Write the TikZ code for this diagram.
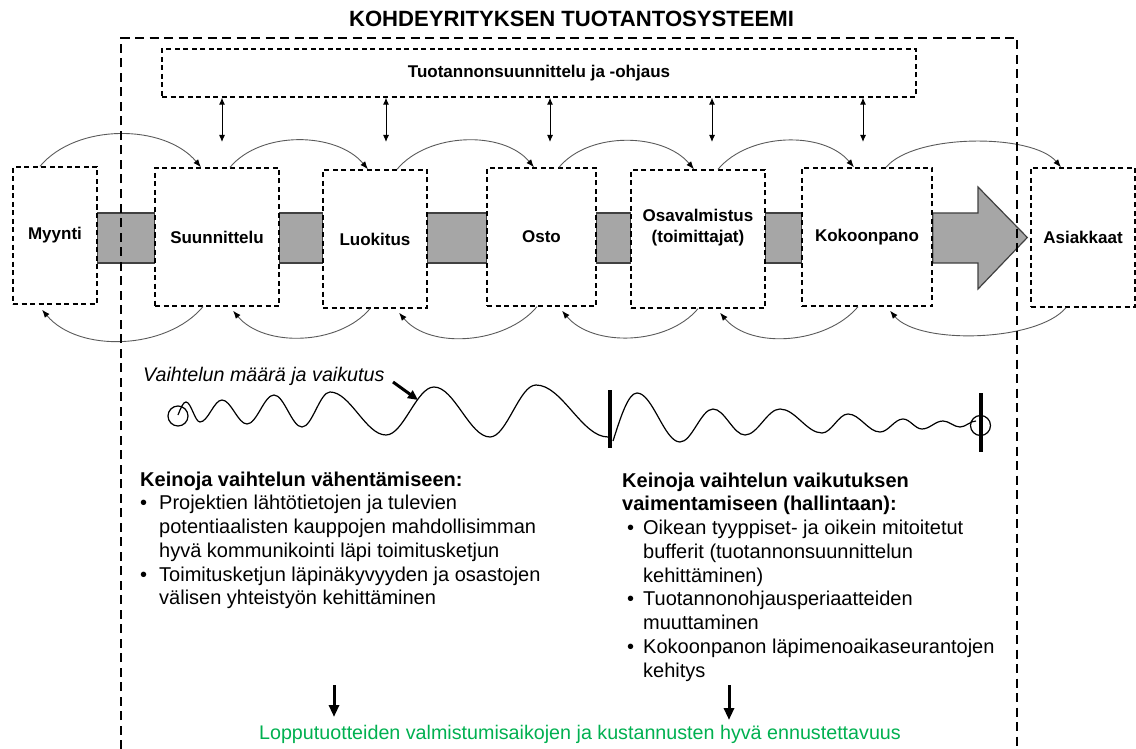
\documentclass[tikz,border=0pt]{standalone}
\usepackage{fontspec}
\setmainfont{Liberation Sans}
\usetikzlibrary{arrows.meta}

\definecolor{bandgrey}{HTML}{A6A6A6}
\definecolor{bandline}{HTML}{404040}
\definecolor{arcgrey}{HTML}{5A5A5A}
\definecolor{resultgreen}{HTML}{00B050}

\begin{document}
\begin{tikzpicture}[x=1pt,y=-1pt,
  stage/.style={draw, fill=white, line width=1.4pt, dash pattern=on 5pt off 3.5pt,
    inner sep=0pt, font=\fontsize{17}{21}\selectfont\bfseries, align=center},
  stagetext/.style={inner sep=0pt, font=\fontsize{17}{21}\selectfont\bfseries, align=center},
  frame/.style={line width=2.2pt, dash pattern=on 9pt off 5.5pt},
  band/.style={fill=bandgrey, draw=bandline, line width=1.2pt},
  flow/.style={draw=arcgrey, line width=0.9pt, -{Latex[length=8pt,width=6pt,color=black]}},
  ctrl/.style={line width=1pt, {Latex[length=7pt,width=6pt]}-{Latex[length=7pt,width=6pt]}},
  bodytext/.style={inner sep=0pt, anchor=base west, font=\fontsize{20}{23.75}\selectfont},
  bigdown/.style={line width=3pt, -{Triangle[length=12pt,width=10pt]}},
  wave/.style={line width=1.2pt, line join=round}
]
\useasboundingbox (0,0) rectangle (1136,749);

% title
\node[anchor=base, inner sep=0pt, font=\fontsize{22.1}{26}\selectfont\bfseries] (title) at (571.5,27)
  {KOHDEYRITYKSEN TUOTANTOSYSTEEMI};

% production planning box
\node[stage, line width=1.3pt, minimum width=754pt, minimum height=48pt] (tp) at (539,73)
  {Tuotannonsuunnittelu ja -ohjaus};

% helper levels for the material flow band
\coordinate (bt) at (0,213);
\coordinate (bb) at (0,263);

% the chain of stages (placed first so the band can refer to them)
\path
  node[stage, minimum width=84pt,  minimum height=137pt] (myy)  at (55,235.5) {}
  node[stage, minimum width=124pt, minimum height=138pt] (suun) at (217,237)  {}
  node[stage, minimum width=104pt, minimum height=138pt] (luo)  at (375,239)  {}
  node[stage, minimum width=109pt, minimum height=138pt] (osto) at (541.5,237) {}
  node[stage, minimum width=134pt, minimum height=138pt] (osa)  at (698,239)  {}
  node[stage, minimum width=130pt, minimum height=138pt] (kok)  at (867,237)  {}
  node[stage, minimum width=104pt, minimum height=139pt] (asi)  at (1083,237.5) {};

% material flow band between the stages
\draw[band] (myy.east |- bt) rectangle (suun.west |- bb);
\draw[band] (suun.east |- bt) rectangle (luo.west |- bb);
\draw[band] (luo.east |- bt) rectangle (osto.west |- bb);
\draw[band] (osto.east |- bt) rectangle (osa.west |- bb);
\draw[band] (osa.east |- bt) rectangle (kok.west |- bb);
\draw[band, line join=miter] (kok.east |- bt) -- (978,213) -- (978,187) -- ([xshift=-3pt]asi.west)
  -- (978,289) -- (978,263) -- (kok.east |- bb) -- cycle;

% stage boxes drawn over the band
\node[stage, minimum width=84pt,  minimum height=137pt] (myyb)  at (myy)  {Myynti};
\node[stage, minimum width=124pt, minimum height=138pt] (suunb) at (suun) {Suunnittelu};
\node[stage, minimum width=104pt, minimum height=138pt] (luob)  at (luo)  {Luokitus};
\node[stage, minimum width=109pt, minimum height=138pt] (ostob) at (osto) {Osto};
\node[stage, minimum width=134pt, minimum height=138pt] (osab)  at (osa)  {};
\node[stagetext] (osatxt) at (698,228) {Osavalmistus\\(toimittajat)};
\node[stage, minimum width=130pt, minimum height=138pt] (kokb)  at (kok)  {Kokoonpano};
\node[stage, minimum width=104pt, minimum height=139pt] (asib)  at (asi)  {Asiakkaat};

% information flow forward (over the top)
\draw[flow] ([xshift=-15pt]myy.north)  to[out=50,in=130,looseness=0.9] ([xshift=-16pt]suun.north);
\draw[flow] ([xshift=13pt]suun.north)  to[out=50,in=130,looseness=0.9] ([xshift=-7pt]luo.north);
\draw[flow] ([xshift=22pt]luo.north)   to[out=50,in=130,looseness=0.9] ([xshift=-7.5pt]osto.north);
\draw[flow] ([xshift=17.5pt]osto.north) to[out=50,in=130,looseness=0.9] ([xshift=-4pt]osa.north);
\draw[flow] ([xshift=20pt]osa.north)   to[out=50,in=130,looseness=0.9] ([xshift=-13pt]kok.north);
\draw[flow] ([xshift=19pt]kok.north)   to[out=50,in=130,looseness=0.65] ([xshift=-22pt]asi.north);

% feedback (underneath)
\draw[flow] ([xshift=-14pt]suun.south) to[out=-130,in=-50,looseness=0.9] ([xshift=-13pt,yshift=-5pt]myy.south);
\draw[flow] ([xshift=-5pt]luo.south)   to[out=-130,in=-50,looseness=0.9] ([xshift=16pt,yshift=-4pt]suun.south);
\draw[flow] ([xshift=-4.5pt]osto.south) to[out=-130,in=-50,looseness=0.9] ([xshift=24pt,yshift=-4pt]luo.south);
\draw[flow] (osa.south)                to[out=-130,in=-50,looseness=0.9] ([xshift=20.5pt,yshift=-4pt]osto.south);
\draw[flow] ([xshift=-9pt]kok.south)   to[out=-130,in=-50,looseness=0.9] ([xshift=22pt,yshift=-4pt]osa.south);
\draw[flow] ([xshift=-17pt]asi.south)  to[out=-130,in=-50,looseness=0.65] ([xshift=23pt,yshift=-4pt]kok.south);

% planning <-> stages
\coordinate (da1) at (222,142);
\coordinate (da2) at (386,142);
\coordinate (da3) at (550,142);
\coordinate (da4) at (712,142);
\coordinate (da5) at (863,142);
\foreach \c in {da1,da2,da3,da4,da5}
  \draw[ctrl] (\c |- tp.south) -- (\c);

% variation: growing wave
\node[anchor=base west, inner sep=0pt, font=\fontsize{19.7}{23}\selectfont\itshape] (vlabel) at (143,381)
  {Vaihtelun määrä ja vaikutus};
\coordinate (ptr0) at (393,382);
\coordinate (ptr1) at (418,400);
\draw[line width=3pt, -{Triangle[length=10pt,width=9pt]}] (ptr0) -- (ptr1);

\draw[line width=1.2pt] (178,416) circle[radius=10pt];
\draw[wave] (178,415) sin (186,402) cos (193,412) sin (200,422)
  cos (211,411) sin (222,400) cos (234.5,412) sin (247,424)
  cos (260.5,409.5) sin (274,395) cos (288,411) sin (302,427)
  cos (316,409.5) sin (330,392) cos (358,413.5) sin (386,435)
  cos (410,411) sin (434,387) cos (462,412) sin (490,437)
  cos (513,411) sin (536,385) cos (572,411) sin (608,437);
\draw[line width=4pt] (610,390) -- (610,448);

% damped wave
\draw[wave] (613,441) sin (637,393) cos (658.5,417.5) sin (680,442)
  cos (696.5,425.5) sin (713,409) cos (729,422) sin (745,435)
  cos (762.5,422) sin (780,409) cos (801,421) sin (822,433)
  cos (835,423.5) sin (848,414) cos (864,423) sin (880,432)
  cos (891.5,425.5) sin (903,419) cos (912.5,424) sin (922,429)
  cos (932.5,425) sin (943,421) cos (951.5,424) sin (960,427)
  cos (968,424) sin (976,421);
\draw[line width=4pt] (981,393) -- (981,452);
\draw[line width=1.2pt] (980.5,425.5) circle[radius=10pt];

% means
\node[bodytext] (reduce) at (140,486) {\begin{tabular}[t]{@{}l@{}}
\textbf{Keinoja vaihtelun vähentämiseen:}\\
\makebox[19pt][l]{•}Projektien lähtötietojen ja tulevien\\
\hspace*{19pt}potentiaalisten kauppojen mahdollisimman\\
\hspace*{19pt}hyvä kommunikointi läpi toimitusketjun\\
\makebox[19pt][l]{•}Toimitusketjun läpinäkyvyyden ja osastojen\\
\hspace*{19pt}välisen yhteistyön kehittäminen
\end{tabular}};

\node[bodytext] (damp) at (622,487) {\begin{tabular}[t]{@{}l@{}}
\textbf{Keinoja vaihtelun vaikutuksen}\\
\textbf{vaimentamiseen (hallintaan):}\\
\makebox[21pt][l]{\hspace{5pt}•}Oikean tyyppiset- ja oikein mitoitetut\\
\hspace*{21pt}bufferit (tuotannonsuunnittelun\\
\hspace*{21pt}kehittäminen)\\
\makebox[21pt][l]{\hspace{5pt}•}Tuotannonohjausperiaatteiden\\
\hspace*{21pt}muuttaminen\\
\makebox[21pt][l]{\hspace{5pt}•}Kokoonpanon läpimenoaikaseurantojen\\
\hspace*{21pt}kehitys
\end{tabular}};

% outcome
\coordinate (a1s) at (334,685);
\coordinate (a1e) at (334,717);
\coordinate (a2s) at (729,685);
\coordinate (a2e) at (729,720);
\draw[bigdown] (a1s) -- (a1e);
\draw[bigdown] (a2s) -- (a2e);
\node[anchor=base, inner sep=0pt, text=resultgreen, font=\fontsize{19.7}{23}\selectfont] (result) at (580,739)
  {Lopputuotteiden valmistumisaikojen ja kustannusten hyvä ennustettavuus};

% system boundary
\draw[frame] (121,749) -- (121,38) -- (1017,38) -- (1017,749);
\end{tikzpicture}
\end{document}
